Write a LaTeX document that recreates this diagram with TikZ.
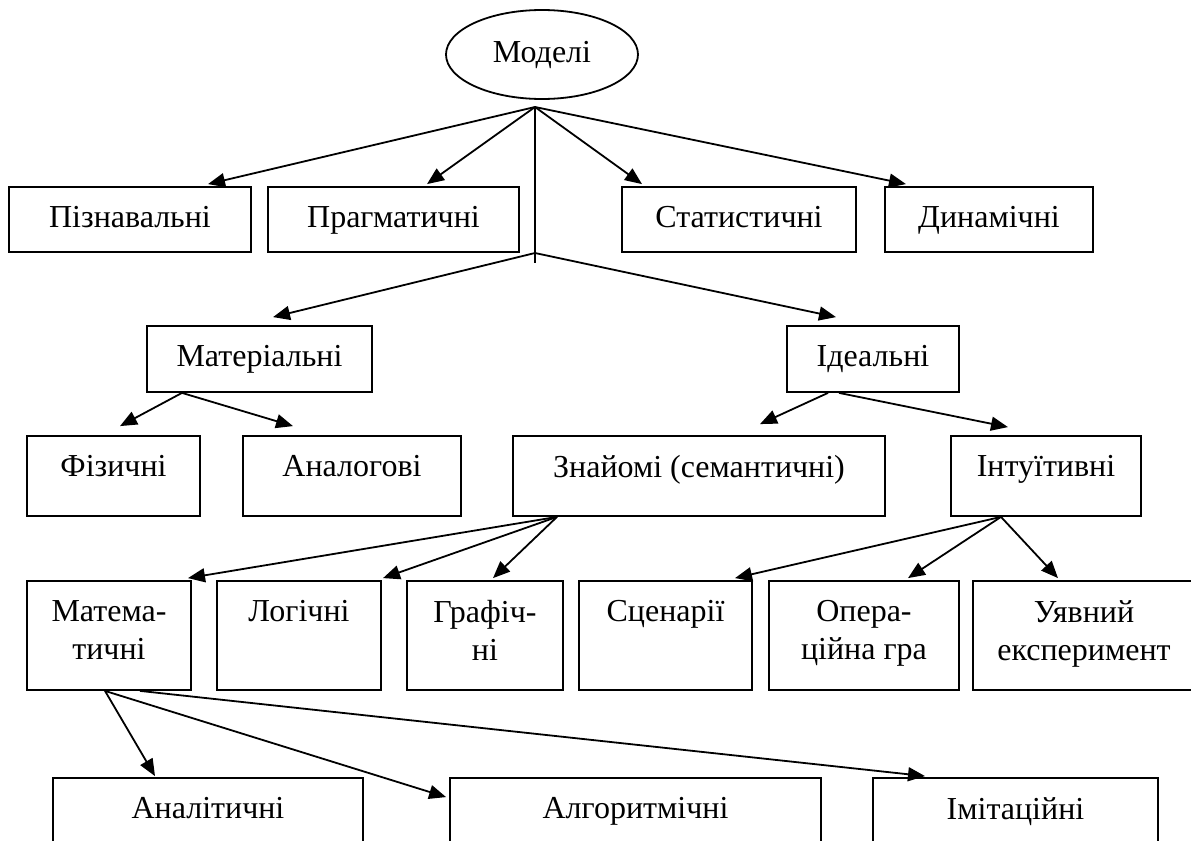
\documentclass[tikz,border=0pt]{standalone}
\usepackage{fontspec}
\setmainfont{Liberation Serif}
\usepackage{tikz}
\usetikzlibrary{arrows.meta}
\usetikzlibrary{shapes.geometric}

\begin{document}
\begin{tikzpicture}[x=0.5pt,y=-0.5pt,
  box/.style 2 args={draw, line width=0.9pt, minimum width=#1, minimum height=#2, inner sep=0pt},
  lbl/.style={anchor=north, inner sep=0pt, align=center, font=\fontsize{16}{19}\selectfont},
  arr/.style={line width=0.9pt, -{Triangle[length=8.5pt,width=7pt]}}]

\clip (0,0) rectangle (1191,841);

\node [draw, ellipse, line width=0.9pt, minimum width=96pt, minimum height=44.5pt, inner sep=0pt, font=\fontsize{16}{19}\selectfont] (model) at (542,54.5) {Моделі};
\coordinate (hub) at (535,107);
\coordinate (fork) at (535,253);
\coordinate (forkend) at (535,263);

\node [box={121pt}{32.5pt}] (pizn) at (130,219.5) {};
\node [box={125.5pt}{32.5pt}] (prag) at (393.5,219.5) {};
\node [box={117pt}{32.5pt}] (stat) at (739,219.5) {};
\node [box={104pt}{32.5pt}] (dyn) at (989,219.5) {};
\node [box={112.5pt}{33pt}] (mat) at (259.5,359) {};
\node [box={86pt}{33pt}] (ideal) at (873,359) {};
\node [box={86.5pt}{40pt}] (fiz) at (113.5,476) {};
\node [box={109pt}{40pt}] (anal) at (352,476) {};
\node [box={186pt}{40pt}] (znay) at (699,476) {};
\node [box={95pt}{40pt}] (intu) at (1046,476) {};
\node [box={82pt}{54.5pt}] (matem) at (109,635.5) {};
\node [box={82pt}{54.5pt}] (log) at (299,635.5) {};
\node [box={78pt}{54.5pt}] (graf) at (485,635.5) {};
\node [box={86.5pt}{54.5pt}] (scen) at (665.5,635.5) {};
\node [box={95pt}{54.5pt}] (oper) at (864,635.5) {};
\node [box={111pt}{54.5pt}] (uyav) at (1084,635.5) {};
\node [box={155pt}{51pt}] (anlt) at (208,829) {};
\node [box={185.5pt}{51pt}] (algo) at (635.5,829) {};
\node [box={142.5pt}{51pt}] (imit) at (1015.5,829) {};

\node [lbl] at ([yshift=-10pt]pizn.north) {Пізнавальні};
\node [lbl] at ([yshift=-10pt]prag.north) {Прагматичні};
\node [lbl] at ([yshift=-10pt]stat.north) {Статистичні};
\node [lbl] at ([yshift=-10pt]dyn.north) {Динамічні};
\node [lbl] at ([yshift=-10pt]mat.north) {Матеріальні};
\node [lbl] at ([yshift=-10pt]ideal.north) {Ідеальні};
\node [lbl] at ([yshift=-10pt]fiz.north) {Фізичні};
\node [lbl] at ([yshift=-10pt]anal.north) {Аналогові};
\node [lbl] at ([yshift=-10pt]znay.north) {Знайомі (семантичні)};
\node [lbl] at ([yshift=-10pt]intu.north) {Інтуїтивні};
\node [lbl] at ([yshift=-10pt]matem.north) {Матема-\\тичні};
\node [lbl] at ([yshift=-10pt]log.north) {Логічні};
\node [lbl] at ([yshift=-10pt]graf.north) {Графіч-\\ні};
\node [lbl] at ([yshift=-10pt]scen.north) {Сценарії};
\node [lbl] at ([yshift=-10pt]oper.north) {Опера-\\ційна гра};
\node [lbl] at ([yshift=-10pt]uyav.north) {Уявний\\експеримент};
\node [lbl] at ([yshift=-10pt]anlt.north) {Аналітичні};
\node [lbl] at ([yshift=-10pt]algo.north) {Алгоритмічні};
\node [lbl] at ([yshift=-10pt]imit.north) {Імітаційні};

\draw [line width=0.9pt] (hub) -- (forkend);
\draw [arr] (hub) -- ([xshift=39pt,yshift=1pt]pizn.north);
\draw [arr] (hub) -- ([xshift=16.75pt,yshift=1pt]prag.north);
\draw [arr] (hub) -- ([xshift=-48.5pt,yshift=1pt]stat.north);
\draw [arr] (hub) -- ([xshift=-41.5pt,yshift=1pt]dyn.north);
\draw [arr] (fork) -- ([xshift=6.75pt,yshift=4pt]mat.north);
\draw [arr] (fork) -- ([xshift=-18.5pt,yshift=4pt]ideal.north);
\draw [arr] ([xshift=-38.75pt]mat.south) -- ([xshift=3.25pt,yshift=4.5pt]fiz.north);
\draw [arr] ([xshift=-38.75pt]mat.south) -- ([xshift=-29.5pt,yshift=4.5pt]anal.north);
\draw [arr] ([xshift=-22.5pt]ideal.south) -- ([xshift=30.5pt,yshift=5.5pt]znay.north);
\draw [arr] ([xshift=-17pt]ideal.south) -- ([xshift=-19pt,yshift=4pt]intu.north);
\draw [arr] ([xshift=-71pt]znay.south) -- ([xshift=39.5pt,yshift=1pt]matem.north);
\draw [arr] ([xshift=-71pt]znay.south) -- ([xshift=42pt,yshift=1pt]log.north);
\draw [arr] ([xshift=-71pt]znay.south) -- ([xshift=4pt,yshift=1pt]graf.north);
\draw [arr] ([xshift=-22.5pt]intu.south) -- ([xshift=34.75pt,yshift=1pt]scen.north);
\draw [arr] ([xshift=-22.5pt]intu.south) -- ([xshift=22pt,yshift=1pt]oper.north);
\draw [arr] ([xshift=-22.5pt]intu.south) -- ([xshift=-13pt,yshift=1pt]uyav.north);
\draw [arr] ([xshift=-2pt]matem.south) -- ([xshift=-26.5pt,yshift=0.5pt]anlt.north);
\draw [arr] ([xshift=-2pt]matem.south) -- ([xshift=-1.5pt,yshift=-10pt]algo.north west);
\draw [arr] ([xshift=15.5pt]matem.south) -- ([xshift=-45.25pt,yshift=0.5pt]imit.north);
\end{tikzpicture}
\end{document}
